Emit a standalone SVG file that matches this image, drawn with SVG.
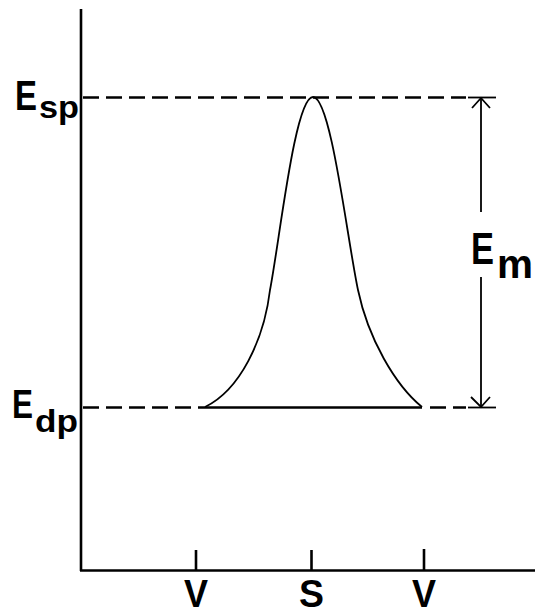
<svg xmlns="http://www.w3.org/2000/svg" width="535" height="616" viewBox="0 0 535 616">
<style>
.ax{stroke:#000;stroke-width:2.6;fill:none}
.dash{stroke:#000;stroke-width:2.6;fill:none;stroke-dasharray:16 7}
.thin{stroke:#000;stroke-width:1.8;fill:none}
.lbl{font-family:"Liberation Sans",Arial,sans-serif;font-weight:bold;fill:#000}
</style>
<rect width="535" height="616" fill="#fff"/>
<g id="axes">
<line class="ax" x1="81" y1="9" x2="81" y2="571"/>
<line class="ax" x1="80" y1="570.5" x2="535" y2="570.5"/>
<line class="ax" x1="196" y1="550" x2="196" y2="571"/>
<line class="ax" x1="311.5" y1="550" x2="311.5" y2="571"/>
<line class="ax" x1="424" y1="549" x2="424" y2="571"/>
</g>
<g id="levels">
<line class="dash" x1="83" y1="97.5" x2="466" y2="97.5"/>
<line class="dash" x1="83" y1="407.5" x2="205" y2="407.5"/>
<line class="ax" x1="205" y1="407.5" x2="422" y2="407.5"/>
<line class="dash" x1="430" y1="407.5" x2="466" y2="407.5"/>
</g>
<g id="curve">
<path class="thin" d="M205,407 C240,390 264,340 270,290 C280,238 295,97 313,97 C331,97 347,238 358,290 C368,338 395,385 422,407"/>
</g>
<g id="connectors">
<line class="thin" x1="468" y1="97.5" x2="496" y2="97.5"/>
<line class="thin" x1="468" y1="407.5" x2="496" y2="407.5"/>
<line class="thin" x1="481" y1="98" x2="481" y2="212"/>
<line class="thin" x1="481" y1="277" x2="481" y2="407"/>
<polyline class="thin" points="472,108 481,98 490,108"/>
<polyline class="thin" points="471,397 481,407 490,397"/>
</g>
<g id="labels">
<text class="lbl" x="15" y="110" font-size="42" textLength="22" lengthAdjust="spacingAndGlyphs">E</text>
<text class="lbl" x="39" y="118" font-size="32" textLength="40" lengthAdjust="spacingAndGlyphs">sp</text>
<text class="lbl" x="12" y="418" font-size="40" textLength="21" lengthAdjust="spacingAndGlyphs">E</text>
<text class="lbl" x="35" y="432" font-size="32" textLength="43" lengthAdjust="spacingAndGlyphs">dp</text>
<text class="lbl" x="471" y="264" font-size="44" textLength="23" lengthAdjust="spacingAndGlyphs">E</text>
<text class="lbl" x="497" y="278" font-size="40" textLength="36" lengthAdjust="spacingAndGlyphs">m</text>
<text class="lbl" x="184" y="607" font-size="38" textLength="24" lengthAdjust="spacingAndGlyphs">V</text>
<text class="lbl" x="299" y="607" font-size="38" textLength="25" lengthAdjust="spacingAndGlyphs">S</text>
<text class="lbl" x="412" y="607" font-size="38" textLength="24" lengthAdjust="spacingAndGlyphs">V</text>
</g>
</svg>
